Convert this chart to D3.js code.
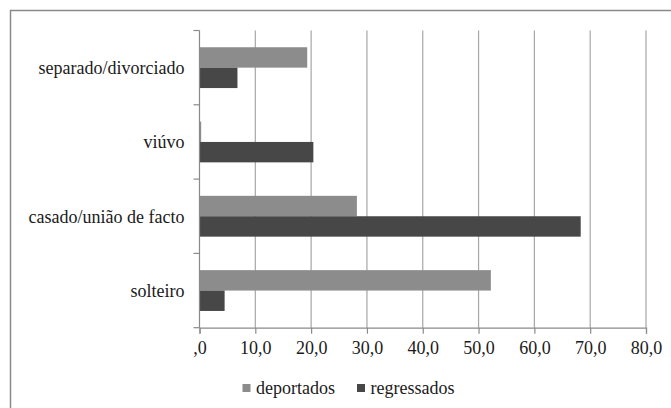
<!DOCTYPE html>
<html>
<head>
<meta charset="utf-8">
<script src="https://cdn.jsdelivr.net/npm/d3@7"></script>
<style>
	body { margin: 0; background: #fff; }
	svg { display: block; }
</style>
</head>
<body>
<svg id="chart" width="671" height="408"></svg>
<script>
// categories, top to bottom
var categories = ["separado/divorciado", "viúvo", "casado/união de facto", "solteiro"];
var seriesNames = ["deportados", "regressados"];
var deportados = [19.3, 0.3, 28.2, 52.2];
var regressados = [6.8, 20.4, 68.3, 4.5];
var xTicks = [0, 10, 20, 30, 40, 50, 60, 70, 80];

var margin = { top: 30.5, left: 199.5 };
var axisY = 327.7;
var fontSize = "18px";
var fontName = "\"Times New Roman\"";

var svg = d3.select("#chart")
	.attr("font-family", "Times New Roman");

//frame (right and bottom edges fall outside the picture)
svg.append("rect")
	.attr("x", 10.5).attr("y", 10.5)
	.attr("width", 700).attr("height", 500)
	.attr("fill", "none")
	.attr("stroke", "#8a8a8a")
	.attr("stroke-width", 1.5);

var x = d3.scaleLinear()
	.domain([0, 80])
	.range([margin.left, 646]);

var y = d3.scaleBand()
	.domain(categories)
	.range([margin.top, axisY]);

var inner = d3.scaleBand()
	.domain(seriesNames)
	.range([0, y.bandwidth()])
	.paddingOuter(0.82);

var color = d3.scaleOrdinal()
	.domain(seriesNames)
	.range(["#8c8c8c", "#474747"]);

//gridlines
svg.append("g")
	.selectAll("line")
	.data(xTicks.slice(1))
	.join("line")
	.attr("x1", d => x(d)).attr("x2", d => x(d))
	.attr("y1", margin.top).attr("y2", axisY)
	.attr("stroke", "#a6a6a6")
	.attr("stroke-width", 1.2);

//bars
var rows = categories.map((c, i) => ({ cat: c, values: [
	{ name: "deportados", value: deportados[i] },
	{ name: "regressados", value: regressados[i] }
]}));

svg.append("g")
	.selectAll("g")
	.data(rows)
	.join("g")
	.attr("transform", d => `translate(0,${y(d.cat)})`)
	.selectAll("rect")
	.data(d => d.values)
	.join("rect")
	.attr("x", x(0))
	.attr("y", d => inner(d.name))
	.attr("width", d => x(d.value) - x(0))
	.attr("height", inner.bandwidth())
	.attr("fill", d => color(d.name));

//x axis
var xAxis = svg.append("g")
	.attr("transform", `translate(0,${axisY})`)
	.call(d3.axisBottom(x)
		.tickValues(xTicks)
		.tickSize(6)
		.tickPadding(8)
		.tickFormat(d => d === 0 ? ",0" : d3.format(".1f")(d).replace(".", ",")));
xAxis.attr("font-family", "Times New Roman").attr("font-size", null);
xAxis.select(".domain").attr("stroke", "#8a8a8a").attr("stroke-width", 1.2);
xAxis.selectAll(".tick line").attr("stroke", "#8a8a8a").attr("stroke-width", 1.2);
xAxis.selectAll("text")
	.style("font-family", fontName)
	.style("font-size", fontSize)
	.style("fill", "#1a1a1a");

//y axis
var yTickPos = d3.range(categories.length + 1).map(i => margin.top + i * y.step());
var yAxis = svg.append("g");
yAxis.append("line")
	.attr("x1", x(0)).attr("x2", x(0))
	.attr("y1", margin.top).attr("y2", axisY)
	.attr("stroke", "#8a8a8a").attr("stroke-width", 1.2);
yAxis.selectAll(".ytick")
	.data(yTickPos)
	.join("line")
	.attr("class", "ytick")
	.attr("x1", x(0) - 6).attr("x2", x(0))
	.attr("y1", d => d).attr("y2", d => d)
	.attr("stroke", "#8a8a8a").attr("stroke-width", 1.2);
yAxis.selectAll("text")
	.data(categories)
	.join("text")
	.attr("x", x(0) - 15)
	.attr("y", d => y(d) + y.bandwidth() / 2)
	.attr("dy", "0.35em")
	.attr("text-anchor", "end")
	.style("font-family", fontName)
	.style("font-size", fontSize)
	.style("fill", "#1a1a1a")
	.text(d => d);

//legend
var legendX = [242.5, 357];
var legend = svg.append("g")
	.selectAll("g")
	.data(seriesNames)
	.join("g")
	.attr("transform", (d, i) => `translate(${legendX[i]},384)`);
legend.append("rect")
	.attr("width", 8).attr("height", 8)
	.attr("fill", d => color(d));
legend.append("text")
	.attr("x", 13.5)
	.attr("y", 4)
	.attr("dy", "0.35em")
	.style("font-family", fontName)
	.style("font-size", fontSize)
	.style("fill", "#1a1a1a")
	.text(d => d);
</script>
</body>
</html>
